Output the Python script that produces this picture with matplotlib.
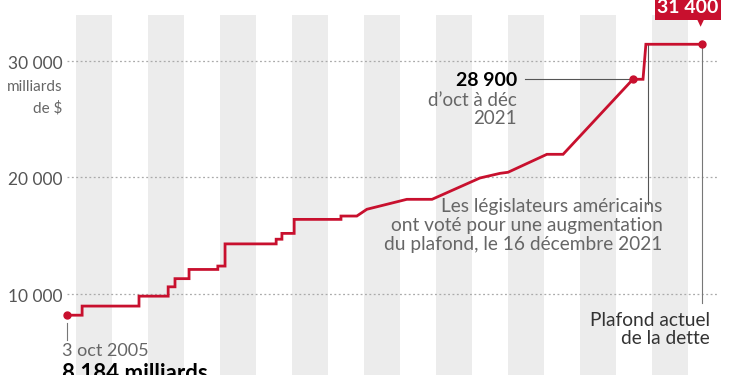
import numpy as np
import matplotlib.pyplot as plt
from matplotlib.patches import FancyBboxPatch, Polygon

# debt ceiling trace (year, billions of $)
dates = [2005.76, 2006.17, 2006.17, 2007.75, 2007.75, 2008.56, 2008.56,
         2008.75, 2008.75, 2009.14, 2009.14, 2009.94, 2009.94, 2010.14,
         2010.14, 2011.56, 2011.56, 2011.72, 2011.72, 2012.06, 2012.06,
         2013.36, 2013.36, 2013.80, 2014.08, 2015.19, 2015.89, 2017.22,
         2017.78, 2018.00, 2019.08, 2019.53, 2021.47, 2021.75, 2021.83,
         2023.39]
ceiling = [8184, 8184, 8965, 8965, 9815, 9815, 10615, 10615, 11315, 11315,
           12104, 12104, 12394, 12394, 14294, 14294, 14694, 14694, 15194,
           15194, 16394, 16394, 16680, 16680, 17260, 18113, 18113, 19940,
           20340, 20430, 21970, 21970, 28400, 28400, 31400, 31400]

stripe_years = list(range(2006, 2024, 2))
yticks = [10000, 20000, 30000]
ytick_labels = ["10 000", "20 000", "30 000"]

red = "#c8102e"
grey_text = "#666666"
dark_text = "#333333"

plt.rcParams["font.family"] = ["Lato", "DejaVu Sans"]

fig = plt.figure(figsize=(7.5, 3.75), dpi=100)
ax = fig.add_axes([0, 0, 1, 1])
ax.set_xlim(2003.889, 2024.722)
ax.set_ylim(3059, 35193)
ax.axis("off")

# alternating year stripes
for yr in stripe_years:
    ax.axvspan(yr, yr + 1, ymin=0, ymax=(33907 - 3059) / (35193 - 3059),
               color="#ececec", lw=0, zorder=0)

# dotted grid + labels
for v, lab in zip(yticks, ytick_labels):
    ax.plot([2005.75, 2023.83], [v, v], ls=(0, (1.5, 2)), color="#aaaaaa",
            lw=0.9, zorder=1)
    ax.text(2005.62, v - 250, lab, ha="right", va="center", fontsize=12.5,
            color="#555555")
ax.text(2005.62, 27700, "milliards", ha="right", va="center", fontsize=11,
        color=grey_text)
ax.text(2005.62, 25900, "de $", ha="right", va="center", fontsize=11,
        color=grey_text)

# main line
ax.plot(dates, ceiling, color=red, lw=2, solid_joinstyle="miter", zorder=3)
ax.plot([dates[0], dates[32], dates[-1]], [ceiling[0], ceiling[32], ceiling[-1]],
        "o", color=red, ms=5, zorder=4)

# start annotation
ax.plot([dates[0], dates[0]], [ceiling[0] - 700, 6100], color="#777777", lw=0.8)
ax.text(2005.62, 5100, "3 oct 2005", ha="left", va="center", fontsize=13,
        color=grey_text)
ax.text(2005.62, 4100, "8 184 milliards", ha="left", va="top", fontsize=16,
        fontweight="bold", color="black")

# 28 900 annotation
ax.plot([2018.47, dates[32] - 0.1], [ceiling[32], ceiling[32]], color="#555555",
        lw=0.8, zorder=2)
ax.text(2018.25, ceiling[32] - 100, "28 900", ha="right", va="center",
        fontsize=14, fontweight="bold", color="black")
ax.text(2018.25, 27350, "d\u2019oct à déc\n2021", ha="right", va="top",
        fontsize=13.5, color=grey_text, linespacing=1.1)

# vote annotation
ax.plot([2021.88, 2021.88], [31400, 17700], color="#555555", lw=0.8, zorder=2)
ax.text(2022.3, 18200, "Les législateurs américains\nont voté pour une "
        "augmentation\ndu plafond, le 16 décembre 2021", ha="right", va="top",
        fontsize=13.8, color=grey_text, linespacing=1.12)

# current ceiling annotation
ax.plot([dates[-1], dates[-1]], [ceiling[-1], 9200], color="#777777", lw=0.8,
        zorder=2)
ax.text(2023.6, 8500, "Plafond actuel\nde la dette", ha="right", va="top",
        fontsize=13.8, color=dark_text, linespacing=1.12)

# red value tag
ax.add_patch(FancyBboxPatch((2022.08, 33500), 1.83, 2600,
                            boxstyle="square,pad=0", fc=red, ec="none",
                            zorder=5, clip_on=False))
ax.add_patch(Polygon([[2023.25, 33550], [2023.45, 33550], [2023.35, 32900]],
                     closed=True, fc=red, ec="none", zorder=5))
ax.text(2023.0, 34550, "31 400", ha="center", va="center", fontsize=14,
        fontweight="bold", color="white", zorder=6)

fig.savefig("out.png", dpi=100)
